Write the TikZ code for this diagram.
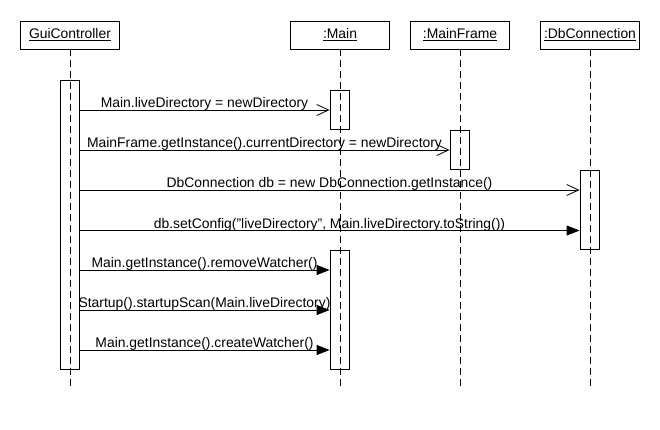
\documentclass[tikz,border=0pt]{standalone}
\usepackage{fontspec}
\setmainfont{Liberation Sans}
\usetikzlibrary{arrows.meta}
\begin{document}
\begin{tikzpicture}[x=1pt,y=-1pt,
  every node/.style={font=\fontsize{13.9}{16}\selectfont},
  head/.style={draw,line width=0.8pt,minimum width=99pt,minimum height=28pt,inner sep=0pt},
  act/.style={draw,line width=0.8pt,minimum width=19pt,inner sep=0pt},
  life/.style={line width=0.8pt,dash pattern=on 7pt off 4pt},
  msgopen/.style={line width=0.8pt,-{Straight Barb[length=12pt,width=11pt,line width=0.8pt]}},
  msgfill/.style={line width=0.8pt,-{Triangle[length=13pt,width=10pt]}},
  lbl/.style={midway,anchor=base,yshift=2.5pt,inner sep=0pt}]
\useasboundingbox (0,0) rectangle (660,430);
% heads
\node[head] (gui) at (70,35) {\underline{GuiController}};
\node[head] (main) at (340,35) {\underline{:Main}};
\node[head] (mf) at (460,35) {\underline{:MainFrame}};
\node[head] (db) at (590,35) {\underline{:DbConnection}};
% lifeline ends
\coordinate (guiE) at (70,390);
\coordinate (mainE) at (340,390);
\coordinate (mfE) at (460,390);
\coordinate (dbE) at (590,390);
% activations
\node[act,minimum height=289pt] (ga) at (69.5,224.5) {};
\node[act,minimum height=39pt] (ma1) at (339.5,109.5) {};
\node[act,minimum height=39pt] (mfa) at (459.5,149.5) {};
\node[act,minimum height=79pt] (dba) at (589.5,209.5) {};
\node[act,minimum height=119pt] (ma2) at (339.5,309.5) {};
% lifelines
\draw[life] (gui.south) -- (guiE);
\draw[life] (main.south) -- (mainE);
\draw[life] (mf.south) -- (mfE);
\draw[life] (db.south) -- (dbE);
% message rows
\coordinate (r1) at (0,110);
\coordinate (r2) at (0,150);
\coordinate (r3) at (0,190);
\coordinate (r4) at (0,230.5);
\coordinate (r5) at (0,270);
\coordinate (r6) at (0,310);
\coordinate (r7) at (0,350);
\draw[msgopen] (ga.east |- r1) -- (ma1.west |- r1) node[lbl] {Main.liveDirectory = newDirectory};
\draw[msgopen] (ga.east |- r2) -- (mfa.west |- r2) node[lbl] {MainFrame.getInstance().currentDirectory = newDirectory};
\draw[msgopen] (ga.east |- r3) -- (dba.west |- r3) node[lbl] {DbConnection db = new DbConnection.getInstance()};
\draw[msgfill] (ga.east |- r4) -- (dba.west |- r4) node[lbl] {db.setConfig("liveDirectory", Main.liveDirectory.toString())};
\draw[msgfill] (ga.east |- r5) -- (ma2.west |- r5) node[lbl] {Main.getInstance().removeWatcher()};
\draw[msgfill] (ga.east |- r6) -- (ma2.west |- r6) node[lbl] {Startup().startupScan(Main.liveDirectory)};
\draw[msgfill] (ga.east |- r7) -- (ma2.west |- r7) node[lbl] {Main.getInstance().createWatcher()};
\end{tikzpicture}
\end{document}
